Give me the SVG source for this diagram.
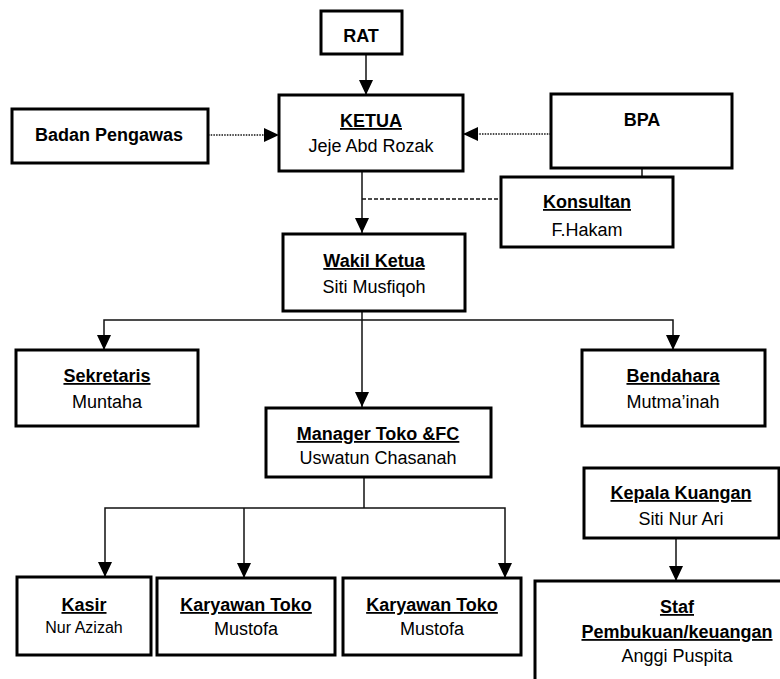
<svg xmlns="http://www.w3.org/2000/svg" width="780" height="679" viewBox="0 0 780 679">
<defs>
<marker id="arr" viewBox="0 0 15 14" refX="15" refY="7" markerWidth="15" markerHeight="14" markerUnits="userSpaceOnUse" orient="auto">
<path d="M0,0 L15,7 L0,14 Z" fill="#000"/>
</marker>
<style>
.box{fill:#fff;stroke:#000;stroke-width:3}
text{font-family:"Liberation Sans",Arial,sans-serif;font-size:18px;fill:#000;text-anchor:middle}
.t{font-weight:bold;text-decoration:underline}
.b{font-weight:bold}
.sm{font-size:16px}
.ln{fill:none;stroke:#111;stroke-width:1.5}
.arr{marker-end:url(#arr)}
.dot{stroke-dasharray:1.5 1.2}
.dash{stroke-dasharray:4 2}
</style>
</defs>
<rect width="780" height="679" fill="#fff"/>
<g id="connectors">
<line class="ln arr" x1="366" y1="54" x2="366" y2="95"/>
<line class="ln arr dot" x1="208" y1="135" x2="279" y2="135"/>
<line class="ln arr dot" x1="551" y1="134" x2="463" y2="134"/>
<line class="ln" x1="642" y1="168" x2="642" y2="177"/>
<line class="ln dash" x1="362" y1="199" x2="501" y2="199"/>
<line class="ln arr" x1="362" y1="171" x2="362" y2="233"/>
<line class="ln arr" x1="362" y1="311" x2="362" y2="407"/>
<polyline class="ln arr" points="362,320 104,320 104,350"/>
<polyline class="ln arr" points="362,320 673,320 673,350"/>
<line class="ln" x1="364" y1="477" x2="364" y2="508"/>
<polyline class="ln arr" points="364,508 105,508 105,577"/>
<polyline class="ln arr" points="364,508 505,508 505,578"/>
<line class="ln arr" x1="244" y1="508" x2="244" y2="578"/>
<line class="ln arr" x1="676" y1="538" x2="676" y2="581"/>
</g>
<g id="rat"><rect class="box" x="321" y="11" width="81" height="43"/><text class="b" x="361" y="42">RAT</text></g>
<g id="ketua"><rect class="box" x="279" y="95" width="184" height="76"/><text class="t" x="371" y="127">KETUA</text><text x="371" y="152">Jeje Abd Rozak</text></g>
<g id="badan-pengawas"><rect class="box" x="12" y="109" width="196" height="54"/><text class="b" x="109" y="141">Badan Pengawas</text></g>
<g id="bpa"><rect class="box" x="551" y="94" width="181" height="74"/><text class="b" x="642" y="126">BPA</text></g>
<g id="konsultan"><rect class="box" x="501" y="177" width="172" height="70"/><text class="t" x="587" y="208">Konsultan</text><text x="587" y="236">F.Hakam</text></g>
<g id="wakil-ketua"><rect class="box" x="283" y="234" width="182" height="77"/><text class="t" x="374" y="267">Wakil Ketua</text><text x="374" y="293">Siti Musfiqoh</text></g>
<g id="sekretaris"><rect class="box" x="16" y="350" width="182" height="76"/><text class="t" x="107" y="382">Sekretaris</text><text x="107" y="408">Muntaha</text></g>
<g id="bendahara"><rect class="box" x="582" y="350" width="183" height="76"/><text class="t" x="673" y="382">Bendahara</text><text x="673" y="408">Mutma’inah</text></g>
<g id="manager"><rect class="box" x="266" y="408" width="225" height="69"/><text class="t" x="378" y="440">Manager Toko &amp;FC</text><text x="378" y="464">Uswatun Chasanah</text></g>
<g id="kasir"><rect class="box" x="17" y="577" width="134" height="78"/><text class="t" x="84" y="611">Kasir</text><text class="sm" x="84" y="633">Nur Azizah</text></g>
<g id="karyawan-1"><rect class="box" x="157" y="578" width="178" height="77"/><text class="t" x="246" y="611">Karyawan Toko</text><text x="246" y="635">Mustofa</text></g>
<g id="karyawan-2"><rect class="box" x="343" y="578" width="178" height="77"/><text class="t" x="432" y="611">Karyawan Toko</text><text x="432" y="635">Mustofa</text></g>
<g id="kepala-kuangan"><rect class="box" x="584" y="468" width="195" height="70"/><text class="t" x="681" y="499">Kepala Kuangan</text><text x="681" y="525">Siti Nur Ari</text></g>
<g id="staf"><rect class="box" x="535" y="581" width="270" height="120"/><text class="t" x="677" y="613">Staf</text><text class="t" x="677" y="638">Pembukuan/keuangan</text><text x="677" y="662">Anggi Puspita</text></g>
</svg>
